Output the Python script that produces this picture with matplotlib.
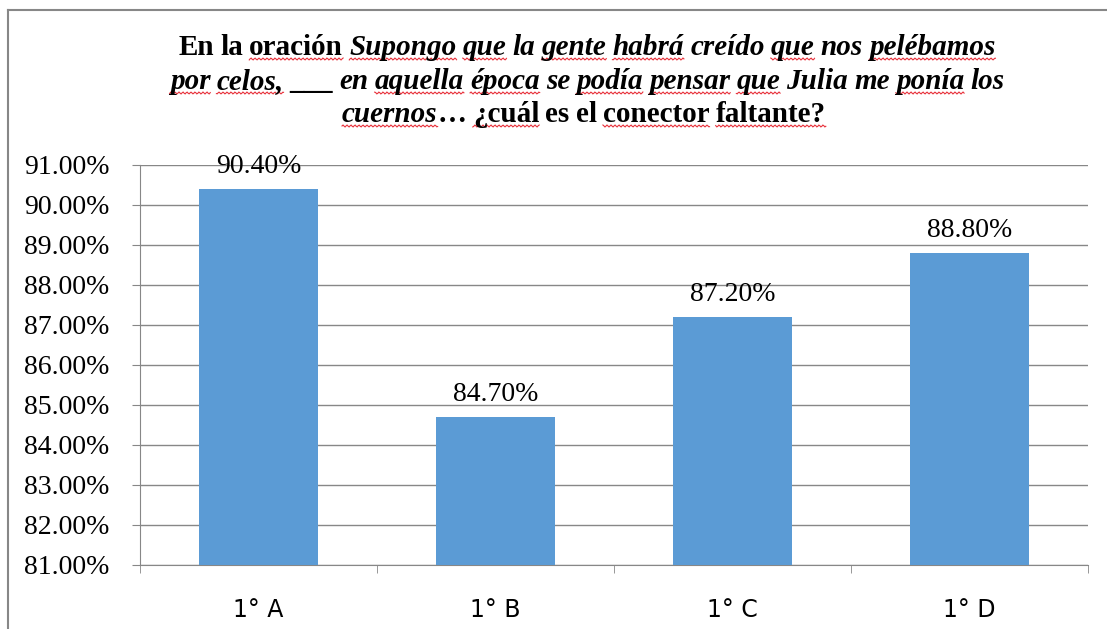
import matplotlib
matplotlib.use("Agg")
import matplotlib.pyplot as plt
import numpy as np
from matplotlib.lines import Line2D
from matplotlib.ticker import FuncFormatter, FixedLocator

# data
grupos = ["1° A", "1° B", "1° C", "1° D"]
porcentajes = [90.40, 84.70, 87.20, 88.80]
y_min, y_max = 81, 91

# title pieces: (word, italic, spell-check underline)
titulo = [
    [("En", 0, 0), ("la", 0, 0), ("oración", 0, 1), ("Supongo", 1, 1), ("que", 1, 1),
     ("la", 1, 0), ("gente", 1, 1), ("habrá", 1, 1), ("creído", 1, 0), ("que", 1, 1),
     ("nos", 1, 0), ("pelébamos", 1, 1)],
    [("por", 1, 1), ("celos,", 1, 1), ("___", 0, 0), ("en", 1, 0), ("aquella", 1, 1),
     ("época", 1, 1), ("se", 1, 0), ("podía", 1, 1), ("pensar", 1, 1), ("que", 1, 1),
     ("Julia", 1, 0), ("me", 1, 0), ("ponía", 1, 1), ("los", 1, 0)],
    [("cuernos", 1, 1), ("…", 0, 0), ("¿cuál", 0, 1), ("es", 0, 0), ("el", 0, 0),
     ("conector", 0, 1), ("faltante?", 0, 1)],
]

W, H = 1107, 629
fig = plt.figure(figsize=(W / 100, H / 100), dpi=100)
ax = fig.add_axes([140 / W, 1 - 565 / H, (1088 - 140) / W, (565 - 165) / H])

gris = "#878787"
x = np.arange(len(grupos))
bars = ax.bar(x, porcentajes, width=0.5, color="#5B9BD5", zorder=3)
ax.set_xlim(-0.5, len(grupos) - 0.5)
ax.set_ylim(y_min, y_max)

ax.set_yticks(np.arange(y_min, y_max + 1, 1))
ax.yaxis.set_major_formatter(FuncFormatter(lambda v, p: f"{v:.2f}%"))
ax.grid(axis="y", color=gris, linewidth=1, zorder=0)
ax.set_axisbelow(True)

ax.set_xticks(x)
ax.set_xticklabels(grupos, family=["Liberation Sans Narrow", "DejaVu Sans"], fontsize=17)
ax.xaxis.set_minor_locator(FixedLocator(np.arange(-0.5, len(grupos), 1)))
ax.tick_params(axis="x", which="major", length=0, pad=24)
ax.tick_params(axis="x", which="minor", length=6, color=gris, direction="out")
ax.tick_params(axis="y", length=6, color=gris, direction="out", pad=16)
for lbl in ax.get_yticklabels():
    lbl.set_family("Liberation Serif")
    lbl.set_fontsize(20)

for s in ["top", "right"]:
    ax.spines[s].set_visible(False)
for s in ["left", "bottom"]:
    ax.spines[s].set_color(gris)

for b, v in zip(bars, porcentajes):
    ax.annotate(f"{v:.2f}%", (b.get_x() + b.get_width() / 2, v),
                xytext=(0, 7), textcoords="offset points", ha="center", va="bottom",
                family="Liberation Serif", fontsize=20)

# outer chart frame
fig.add_artist(Line2D([8 / W, 8 / W], [0, 1 - 10 / H], transform=fig.transFigure, color=gris, lw=1.5))
fig.add_artist(Line2D([8 / W, 1], [1 - 10 / H, 1 - 10 / H], transform=fig.transFigure, color=gris, lw=1.5))

# title built word by word (mixed bold / bold italic)
renderer = fig.canvas.get_renderer()
fs = 21
centro = 587
bases = [55, 89, 122]


def ancho(txt, it):
    t = fig.text(0, 0, txt, family="Liberation Serif", weight="bold",
                 style="italic" if it else "normal", fontsize=fs)
    w = t.get_window_extent(renderer).width
    t.remove()
    return w


for linea, yb in zip(titulo, bases):
    anchos = [ancho(w, it) for w, it, u in linea]
    esp = (ancho("a a", 0) - ancho("aa", 0)) * 0.85
    total = sum(anchos) + esp * (len(linea) - 1)
    xp = centro - total / 2
    for (w, it, u), wd in zip(linea, anchos):
        if w == "…":
            xp -= esp
        fig.text(xp / W, 1 - yb / H, w, family="Liberation Serif", weight="bold",
                 style="italic" if it else "normal", fontsize=fs, va="baseline", ha="left")
        if u:
            xs = np.linspace(xp, xp + wd, max(int(wd), 2))
            ys = yb + 4 + 1.0 * np.sin(xs * np.pi / 2)
            fig.add_artist(Line2D(xs / W, 1 - ys / H, transform=fig.transFigure,
                                  color="#e8303a", lw=0.8))
        xp += wd + esp

fig.savefig("out.png", dpi=100)
